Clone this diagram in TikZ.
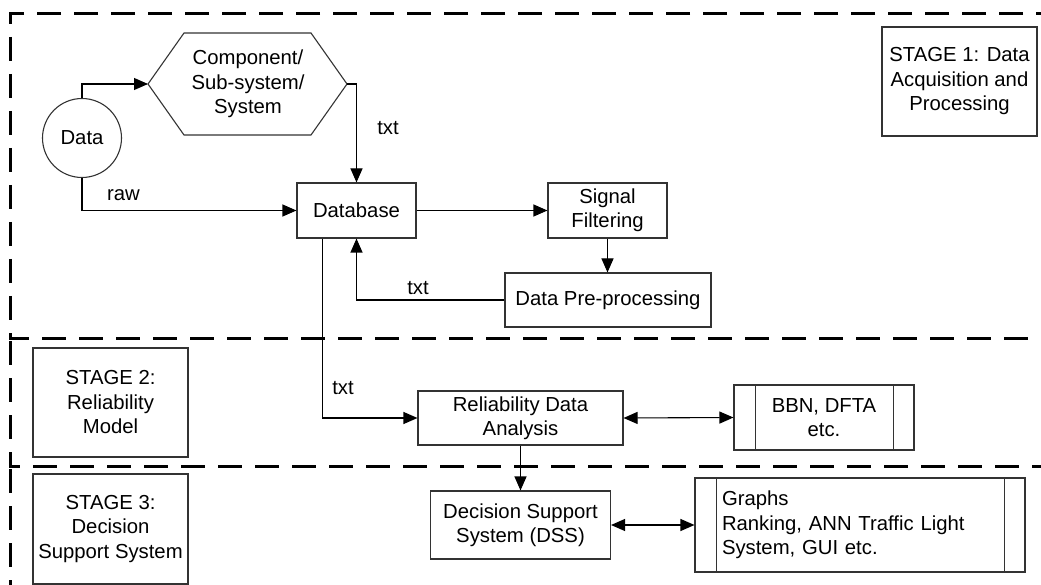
\documentclass[tikz,border=0pt]{standalone}
\usepackage{fontspec}
\setmainfont{Liberation Sans}
\usetikzlibrary{arrows.meta,calc}
\begin{document}
\begin{tikzpicture}[x=1pt,y=-1pt,
  every node/.style={font=\fontsize{20.3}{24.5}\selectfont, inner sep=0pt},
  box/.style={draw=black!80, line width=1.1pt, minimum width=#1, align=center},
  stageline/.style={line width=3pt, dash pattern=on 24pt off 13pt},
  link/.style={line width=1.1pt, -{Triangle[length=14pt,width=12pt]}},
  duplex/.style={line width=1.1pt, {Triangle[length=14pt,width=12pt]}-{Triangle[length=14pt,width=12pt]}},
  lbl/.style={font=\fontsize{20.3}{24.5}\selectfont}
]
\useasboundingbox (0,0) rectangle (1041,585);

% stage frames
\draw[stageline] (1060,14) -- (10,14) -- (10,338) -- (1060,338);
\draw[stageline] (10,341) -- (10,466) -- (1060,466);
\draw[stageline] (10,469) -- (10,600);

% stage captions
\node[box=155pt, minimum height=109pt] (s1) at (959.5,81.5) {STAGE 1: Data\\Acquisition and\\Processing};
\node[box=155pt, minimum height=109pt] (s2) at (110.5,402.5) {STAGE 2:\\Reliability\\Model};
\node[box=155pt, minimum height=110pt] (s3) at (110.5,529) {STAGE 3:\\Decision\\Support System};

% stage 1 elements
\node[circle, draw=black!80, line width=1.1pt, minimum size=79pt] (data) at (82,138) {Data};
\node[align=center] (hex) at (248,84) {Component/\\Sub-system/\\System};
\coordinate (hexL) at (148,84);
\coordinate (hexR) at (347,84);
\draw[draw=black!80, line width=1.1pt] (hexL) -- (184,33) -- (311,33) -- (hexR) -- (311,135) -- (184,135) -- cycle;

\node[box=119pt, minimum height=55pt] (db) at (356.5,210.5) {Database};
\node[box=119pt, minimum height=55pt] (sf) at (607.5,210.5) {Signal\\Filtering};
\node[box=206pt, minimum height=54pt] (dpp) at (608,300) {Data Pre-processing};

% stage 2 elements
\node[box=205pt, minimum height=54pt] (rda) at (520.5,418) {Reliability Data\\Analysis};
\node[box=180pt, minimum height=65pt] (bbn) at (824,417.5) {BBN, DFTA\\etc.};
\draw[draw=black!80, line width=1.1pt] ([xshift=22pt]bbn.north west) -- ([xshift=22pt]bbn.south west);
\draw[draw=black!80, line width=1.1pt] ([xshift=-21pt]bbn.north east) -- ([xshift=-21pt]bbn.south east);

% stage 3 elements
\node[box=180pt, minimum height=68pt] (dss) at (520.5,525) {Decision Support\\System (DSS)};
\node[draw=black!80, line width=1.1pt, minimum height=94pt, inner xsep=27pt, text width=276pt, align=left] (gr) at (860,525) {Graphs\\Ranking, ANN Traffic Light\\System, GUI etc.};
\draw[draw=black!80, line width=1.1pt] ([xshift=22pt]gr.north west) -- ([xshift=22pt]gr.south west);
\draw[draw=black!80, line width=1.1pt] ([xshift=-21pt]gr.north east) -- ([xshift=-21pt]gr.south east);

% connectors
\draw[link] (data.north) |- (hexL);
\draw[link] (data.south) |- (db.west);
\node[lbl, anchor=west] (lraw) at (107,195) {raw};
\draw[link] (hexR) -| (db.north);
\node[lbl] (ltxt1) at (388,128) {txt};
\draw[link] (db.east) -- (sf.west);
\draw[link] (sf.south) -- (sf.south |- dpp.north);
\draw[link] (dpp.west) -| (db.south);
\node[lbl] (ltxt2) at (418,288) {txt};
\draw[link] ([xshift=-34pt]db.south) |- (rda.west);
\node[lbl] (ltxt3) at (343,388) {txt};
\draw[duplex] (rda.east) -- (bbn.west);
\draw[link] (rda.south) -- (rda.south |- dss.north);
\draw[duplex] (dss.east) -- (gr.west);
\end{tikzpicture}
\end{document}
